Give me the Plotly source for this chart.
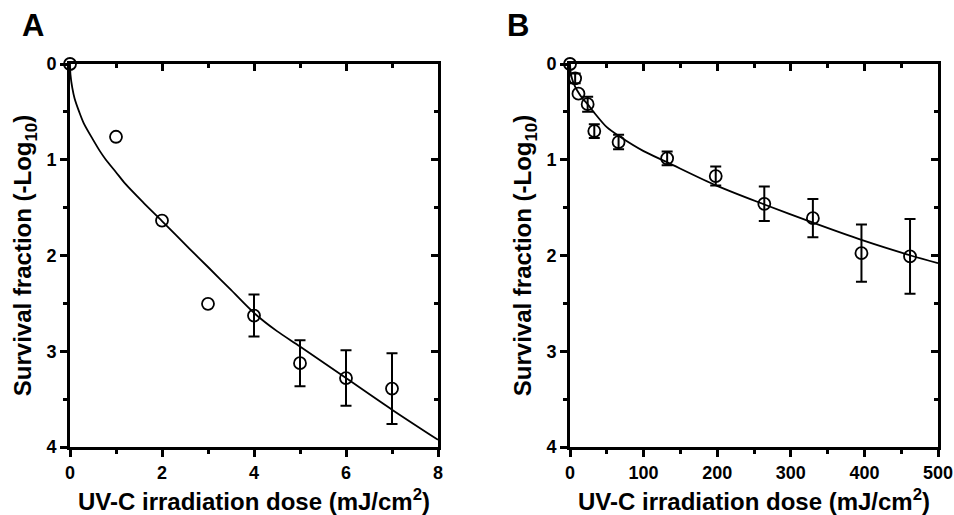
import plotly.graph_objects as go

# ---------------- Panel A data ----------------
a_dose = [0, 1, 2, 3, 4, 5, 6, 7]
a_surv = [0, 0.76, 1.635, 2.505, 2.627, 3.125, 3.28, 3.39]
a_err = [None, None, None, None, 0.22, 0.24, 0.29, 0.37]
a_fit_x = [0, 0.01, 0.05, 0.1, 0.2, 0.3, 0.5, 0.65, 0.78, 1.0, 1.2, 1.6, 2.0, 2.6, 3.0, 3.5, 4.0, 4.5, 5.0, 6.0, 7.0, 8.0]
a_fit_y = [0, 0.11, 0.25, 0.36, 0.50, 0.62, 0.79, 0.91, 1.00, 1.13, 1.25, 1.45, 1.64, 1.93, 2.12, 2.36, 2.60, 2.79, 2.95, 3.28, 3.61, 3.925]

# ---------------- Panel B data ----------------
b_dose = [0, 7, 11.5, 24, 33, 66, 132, 198, 264, 330, 396, 462]
b_surv = [0, 0.15, 0.31, 0.42, 0.70, 0.815, 0.985, 1.17, 1.46, 1.61, 1.975, 2.01]
b_err = [None, 0.05, None, 0.078, 0.072, 0.076, 0.072, 0.10, 0.18, 0.20, 0.30, 0.39]
b_fit_x = [0, 1, 3, 6, 10, 16, 25, 32, 50, 68, 100, 133, 199, 265, 331, 397, 463, 500]
b_fit_y = [0, 0.09, 0.16, 0.22, 0.28, 0.35, 0.43, 0.50, 0.66, 0.76, 0.91, 1.03, 1.27, 1.47, 1.66, 1.84, 2.00, 2.08]

x_title = "UV-C irradiation dose (mJ/cm<sup>2</sup>)"
y_title = "Survival fraction (-Log<sub>10</sub>)"

FONT = "Liberation Sans"
BLACK = "#000000"

fig = go.Figure()


def add_panel(fig, xref, yref, mx, my, dose, surv, err, fx, fy):
    fig.add_trace(go.Scatter(
        x=fx, y=fy, mode="lines", line=dict(color=BLACK, width=1.8, shape="spline", smoothing=0.8),
        xaxis=xref, yaxis=yref, showlegend=False, cliponaxis=False, hoverinfo="skip"))
    # error bars only for points that have them
    idx = [i for i, e in enumerate(err) if e is not None]
    fig.add_trace(go.Scatter(
        x=[dose[i] for i in idx], y=[surv[i] for i in idx], mode="markers",
        marker=dict(size=1, opacity=0),
        error_y=dict(type="data", array=[err[i] for i in idx], visible=True,
                     color=BLACK, thickness=2, width=5.5),
        xaxis=xref, yaxis=yref, showlegend=False, cliponaxis=False, hoverinfo="skip"))
    fig.add_trace(go.Scatter(
        x=dose, y=surv, mode="markers",
        marker=dict(symbol="circle-open", size=12, color=BLACK, line=dict(width=1.8, color=BLACK)),
        xaxis=xref, yaxis=yref, showlegend=False, cliponaxis=False))
    # invisible trace so the mirrored frame axes are drawn
    fig.add_trace(go.Scatter(
        x=[dose[0]], y=[surv[0]], mode="markers", marker=dict(opacity=0, size=1),
        xaxis=mx, yaxis=my, showlegend=False, hoverinfo="skip"))


add_panel(fig, "x", "y", "x3", "y3", a_dose, a_surv, a_err, a_fit_x, a_fit_y)
add_panel(fig, "x2", "y2", "x4", "y4", b_dose, b_surv, b_err, b_fit_x, b_fit_y)

W, H = 954, 515
yd = [1 - 447 / H, 1 - 64 / H]
xdA = [70 / W, 438 / W]
xdB = [570 / W, 938 / W]

tickfont = dict(family=FONT, size=18, color=BLACK, weight="bold")
titlefont = dict(family=FONT, size=24, color=BLACK, weight="bold")


def base_axis(domain, rng, dtick, mdtick, anchor, title=None, standoff=10):
    d = dict(domain=domain, range=rng, dtick=dtick, tick0=0, anchor=anchor, automargin=False,
             showgrid=False, zeroline=False, showline=True, linewidth=3, linecolor=BLACK,
             ticks="outside", ticklen=7, tickwidth=2.5, tickcolor=BLACK, tickfont=tickfont,
             minor=dict(dtick=mdtick, tick0=0, ticks="outside", ticklen=4, tickwidth=2.5,
                        tickcolor=BLACK, showgrid=False),
             fixedrange=True)
    if title:
        d["title"] = dict(text=title, font=titlefont, standoff=standoff)
    return d


def mirror_axis(domain, rng, dtick, mdtick, anchor, overlay, side):
    return dict(domain=domain, range=rng, dtick=dtick, tick0=0, anchor=anchor, automargin=False,
                overlaying=overlay, side=side, showticklabels=False,
                showgrid=False, zeroline=False, showline=True, linewidth=3, linecolor=BLACK,
                ticks="inside", ticklen=7, tickwidth=2.5, tickcolor=BLACK,
                minor=dict(dtick=mdtick, tick0=0, ticks="inside", ticklen=4, tickwidth=2.5,
                           tickcolor=BLACK, showgrid=False),
                fixedrange=True)


fig.update_layout(
    width=W, height=H,
    margin=dict(l=0, r=0, t=0, b=0, autoexpand=False),
    paper_bgcolor="white", plot_bgcolor="white",
    xaxis=base_axis(xdA, [0, 8], 2, 1, "y", x_title, 12),
    yaxis=base_axis(yd, [4, 0], 1, 0.5, "x", y_title, 8),
    xaxis2=base_axis(xdB, [0, 500], 100, 50, "y2", x_title, 12),
    yaxis2=base_axis(yd, [4, 0], 1, 0.5, "x2", y_title, 8),
    xaxis3=mirror_axis(xdA, [0, 8], 2, 1, "y", "x", "top"),
    yaxis3=mirror_axis(yd, [4, 0], 1, 0.5, "x", "y", "right"),
    xaxis4=mirror_axis(xdB, [0, 500], 100, 50, "y2", "x2", "top"),
    yaxis4=mirror_axis(yd, [4, 0], 1, 0.5, "x2", "y2", "right"),
    annotations=[
        dict(text="A", x=20 / W, y=1 - 26 / H, xref="paper", yref="paper", xanchor="left",
             yanchor="middle", showarrow=False, font=dict(family=FONT, size=31, color=BLACK, weight="bold")),
        dict(text="B", x=505 / W, y=1 - 26 / H, xref="paper", yref="paper", xanchor="left",
             yanchor="middle", showarrow=False, font=dict(family=FONT, size=31, color=BLACK, weight="bold")),
    ],
)

fig.write_html("out.html")
